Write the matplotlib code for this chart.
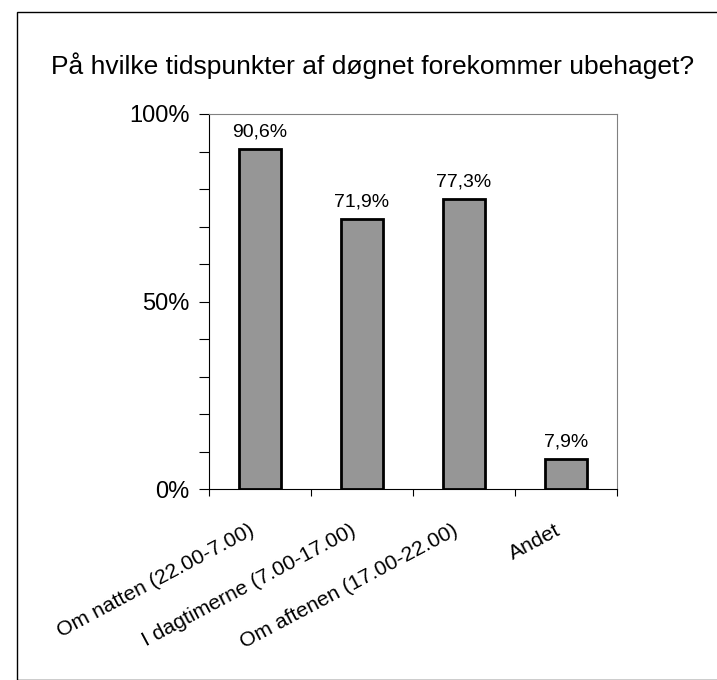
import matplotlib
matplotlib.use("Agg")
import matplotlib.pyplot as plt
from matplotlib.patches import Rectangle
from matplotlib.ticker import MultipleLocator, FixedLocator

plt.rcParams['font.family'] = ['Liberation Sans', 'DejaVu Sans']

categories = ["Om natten (22.00-7.00)", "I dagtimerne (7.00-17.00)",
              "Om aftenen (17.00-22.00)", "Andet"]
values = [90.6, 71.9, 77.3, 7.9]
value_labels = ["90,6%", "71,9%", "77,3%", "7,9%"]
title = "På hvilke tidspunkter af døgnet forekommer ubehaget?"
ytick_vals = [0, 50, 100]
ytick_labels = ["0%", "50%", "100%"]

W, H = 717, 680
fig = plt.figure(figsize=(W / 100, H / 100), dpi=100)

# outer figure border
fig.patches.append(Rectangle((17 / W, 0), 1 - 17 / W + 0.01, 1 - 12 / H,
                             transform=fig.transFigure, fill=False,
                             edgecolor='black', linewidth=1.0))

ax = fig.add_axes([209 / W, 1 - 489 / H, (617 - 209) / W, (489 - 114) / H])
x = list(range(len(categories)))
ax.bar(x, values, width=0.41, color='#969696', edgecolor='black', linewidth=2, zorder=3)
ax.set_xlim(-0.5, len(categories) - 0.5)
ax.set_ylim(0, 100)

for xi, v, lab in zip(x, values, value_labels):
    ax.annotate(lab, (xi, v), xytext=(0, 9), textcoords='offset pixels',
                ha='center', va='bottom', fontsize=14)

ax.yaxis.set_major_locator(FixedLocator(ytick_vals))
ax.set_yticklabels(ytick_labels, fontsize=17)
ax.yaxis.set_minor_locator(MultipleLocator(10))
ax.tick_params(axis='y', which='both', direction='out', length=7, width=0.8, pad=7)

ax.xaxis.set_major_locator(FixedLocator([i + 0.5 for i in range(-1, len(categories))]))
ax.set_xticklabels([])
ax.tick_params(axis='x', which='major', direction='out', length=5, width=0.8)

for xi, cat in zip(x, categories):
    ax.annotate(cat, (xi, 0), xycoords=('data', 'axes fraction'),
                xytext=(-7, -40), textcoords='offset pixels',
                ha='right', va='center', rotation=28, rotation_mode='anchor',
                fontsize=15.2, annotation_clip=False)

for s in ['top', 'right']:
    ax.spines[s].set_color('#808080')
    ax.spines[s].set_linewidth(0.8)
for s in ['left', 'bottom']:
    ax.spines[s].set_color('black')
    ax.spines[s].set_linewidth(0.8)

fig.text(373 / W, 1 - 66 / H, title, ha='center', va='center', fontsize=19)

fig.savefig("out.png", dpi=100)
